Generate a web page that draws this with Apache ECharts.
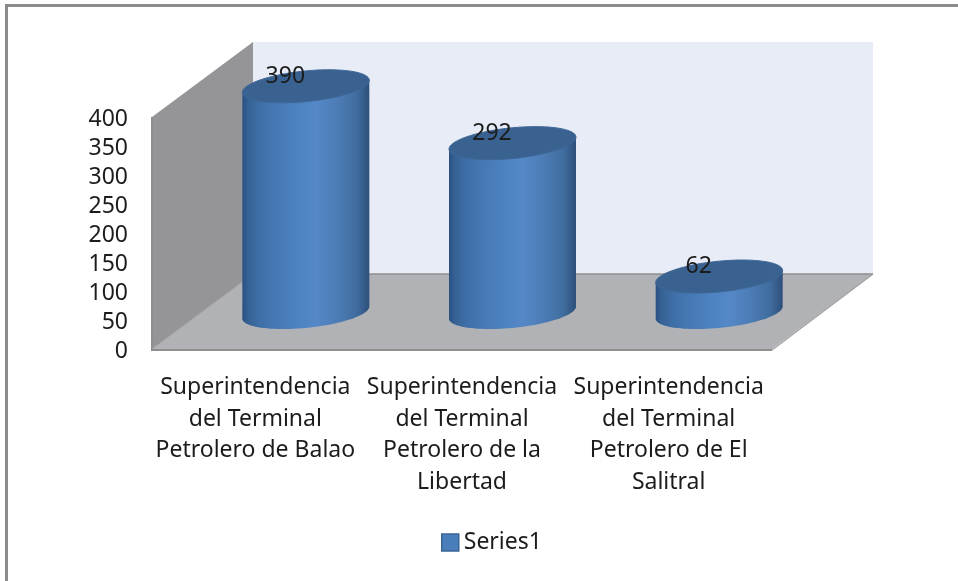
<!DOCTYPE html>
<html><head><meta charset="utf-8">
<style>html,body{margin:0;padding:0;background:#fff}#c{width:958px;height:581px}</style>
<script src="https://cdn.jsdelivr.net/npm/echarts@6/dist/echarts.min.js"></script>
</head><body><div id="c"></div>
<script>
const categories = [
  "Superintendencia\ndel Terminal\nPetrolero de Balao",
  "Superintendencia\ndel Terminal\nPetrolero de la\nLibertad",
  "Superintendencia\ndel Terminal\nPetrolero de El\nSalitral"
];
const seriesName = "Series1";
const values = [390, 292, 62];
const yTicks = {min: 0, max: 400, interval: 50};

const FONT = '"Noto Sans"';
const TEXT = '#1c1c1c';
const FS = 23;
const DEPTH = [101, -75];       // full depth of the 3D box
const HALF = [50.5, -36.5];     // cylinder axis inside the box
const RX = 63.5, RY = 15.4, TILT = 6;

function ellipsePts(cx, cy, from, to, n) {
  const pts = [];
  for (let i = 0; i <= n; i++) {
    const t = from + (to - from) * i / n;
    pts.push([cx + RX * Math.cos(t), cy - TILT * Math.cos(t) + RY * Math.sin(t)]);
  }
  return pts;
}
function vGrad(stops) {
  return new echarts.graphic.LinearGradient(0, 0, 1, 0, stops.map(s => ({offset: s[0], color: s[1]})));
}
const bodyFill = vGrad([[0,'#2b5082'],[0.05,'#366395'],[0.14,'#3f6fa8'],[0.35,'#4a7ebb'],[0.58,'#5588c7'],[0.75,'#4c7cb5'],[0.9,'#406d9f'],[1,'#2e4f7a']]);

const option = {
  animation: false,
  backgroundColor: '#fff',
  textStyle: {fontFamily: FONT},
  grid: {left: 152, top: 117, width: 620, height: 232, containLabel: false},
  xAxis: {
    type: 'category', data: categories,
    axisLine: {show: false}, axisTick: {show: false}, splitLine: {show: false},
    axisLabel: {interval: 0, margin: 22.5, fontFamily: FONT, fontSize: FS, lineHeight: 31.7, color: TEXT, align: 'center', verticalAlign: 'top'}
  },
  yAxis: {
    type: 'value', min: yTicks.min, max: yTicks.max, interval: yTicks.interval,
    axisLine: {show: false}, axisTick: {show: false}, splitLine: {show: false},
    axisLabel: {margin: 24, fontFamily: FONT, fontSize: FS, color: TEXT, verticalAlign: 'top', lineHeight: 4}
  },
  legend: {
    data: [seriesName], left: 436, top: 526, itemWidth: 17, itemHeight: 17, itemGap: 6,
    icon: 'rect',
    textStyle: {fontFamily: FONT, fontSize: FS, color: TEXT},
    itemStyle: {color: '#4a7ebb', borderColor: '#3a6496', borderWidth: 1.5}
  },
  graphic: [
    {type: 'rect', shape: {x: 5, y: 4, width: 953, height: 3}, style: {fill: '#8c8c8c'}, silent: true},
    {type: 'rect', shape: {x: 5, y: 4, width: 3, height: 577}, style: {fill: '#8c8c8c'}, silent: true}
  ],
  series: [
    {
      type: 'custom', name: 'walls', coordinateSystem: 'cartesian2d', silent: true, z: 1,
      data: [[0, 0]],
      renderItem(params, api) {
        const c = params.coordSys;
        const l = c.x, t = c.y, r = c.x + c.width, b = c.y + c.height;
        const dx = DEPTH[0], dy = DEPTH[1];
        return {type: 'group', children: [
          {type: 'polygon', shape: {points: [[l + dx, t + dy], [r + dx, t + dy], [r + dx, b + dy], [l + dx, b + dy]]}, style: {fill: '#e8ecf6'}},
          {type: 'polygon', shape: {points: [[l, t], [l + dx, t + dy], [l + dx, b + dy], [l, b]]}, style: {fill: '#959598'}},
          {type: 'polygon', shape: {points: [[l, b], [l + dx, b + dy], [r + dx, b + dy], [r, b]]}, style: {fill: '#b0b2b6'}},
          {type: 'polyline', shape: {points: [[l + dx, b + dy], [r + dx, b + dy]]}, style: {stroke: '#8e8e8e', lineWidth: 1.5, fill: null}},
          {type: 'polyline', shape: {points: [[r + dx, b + dy], [r, b + 1]]}, style: {stroke: '#a4a4a6', lineWidth: 1.5, fill: null}},
          {type: 'polyline', shape: {points: [[l, t], [l, b + 1], [r, b + 1]]}, style: {stroke: '#8e8e8e', lineWidth: 2, fill: null}},
          {type: 'polyline', shape: {points: [[l, b], [l + dx, b + dy]]}, style: {stroke: '#a0a0a2', lineWidth: 1, fill: null}}
        ]};
      }
    },
    {
      type: 'custom', name: seriesName, coordinateSystem: 'cartesian2d', z: 3,
      itemStyle: {color: '#4a7ebb', borderColor: '#3a6496', borderWidth: 1.5},
      encode: {x: 0, y: 1},
      data: values.map((v, i) => [i, v]),
      renderItem(params, api) {
        const top = api.coord([api.value(0), api.value(1)]);
        const base = api.coord([api.value(0), 0]);
        const cx = top[0] + HALF[0], ty = top[1] + HALF[1], by = base[1] + HALF[1];
        const body = [[cx - RX, ty + TILT]]
          .concat(ellipsePts(cx, by, Math.PI, 0, 48))
          .concat([[cx + RX, ty - TILT]]);
        return {type: 'group', children: [
          {type: 'polygon', shape: {points: body}, style: {fill: bodyFill}},
          {type: 'polygon', shape: {points: ellipsePts(cx, ty, 0, Math.PI * 2, 72)}, style: {fill: '#3a6291', stroke: '#3f6897', lineWidth: 1}},
          {type: 'text', style: {x: cx - 20.5, y: ty - 10, text: String(api.value(1)), align: 'center', verticalAlign: 'middle', fontFamily: FONT, fontSize: FS, fill: TEXT}}
        ]};
      }
    }
  ]
};
const chart = echarts.init(document.getElementById('c'), null, {renderer: 'canvas'});
chart.setOption(option);
</script></body></html>
